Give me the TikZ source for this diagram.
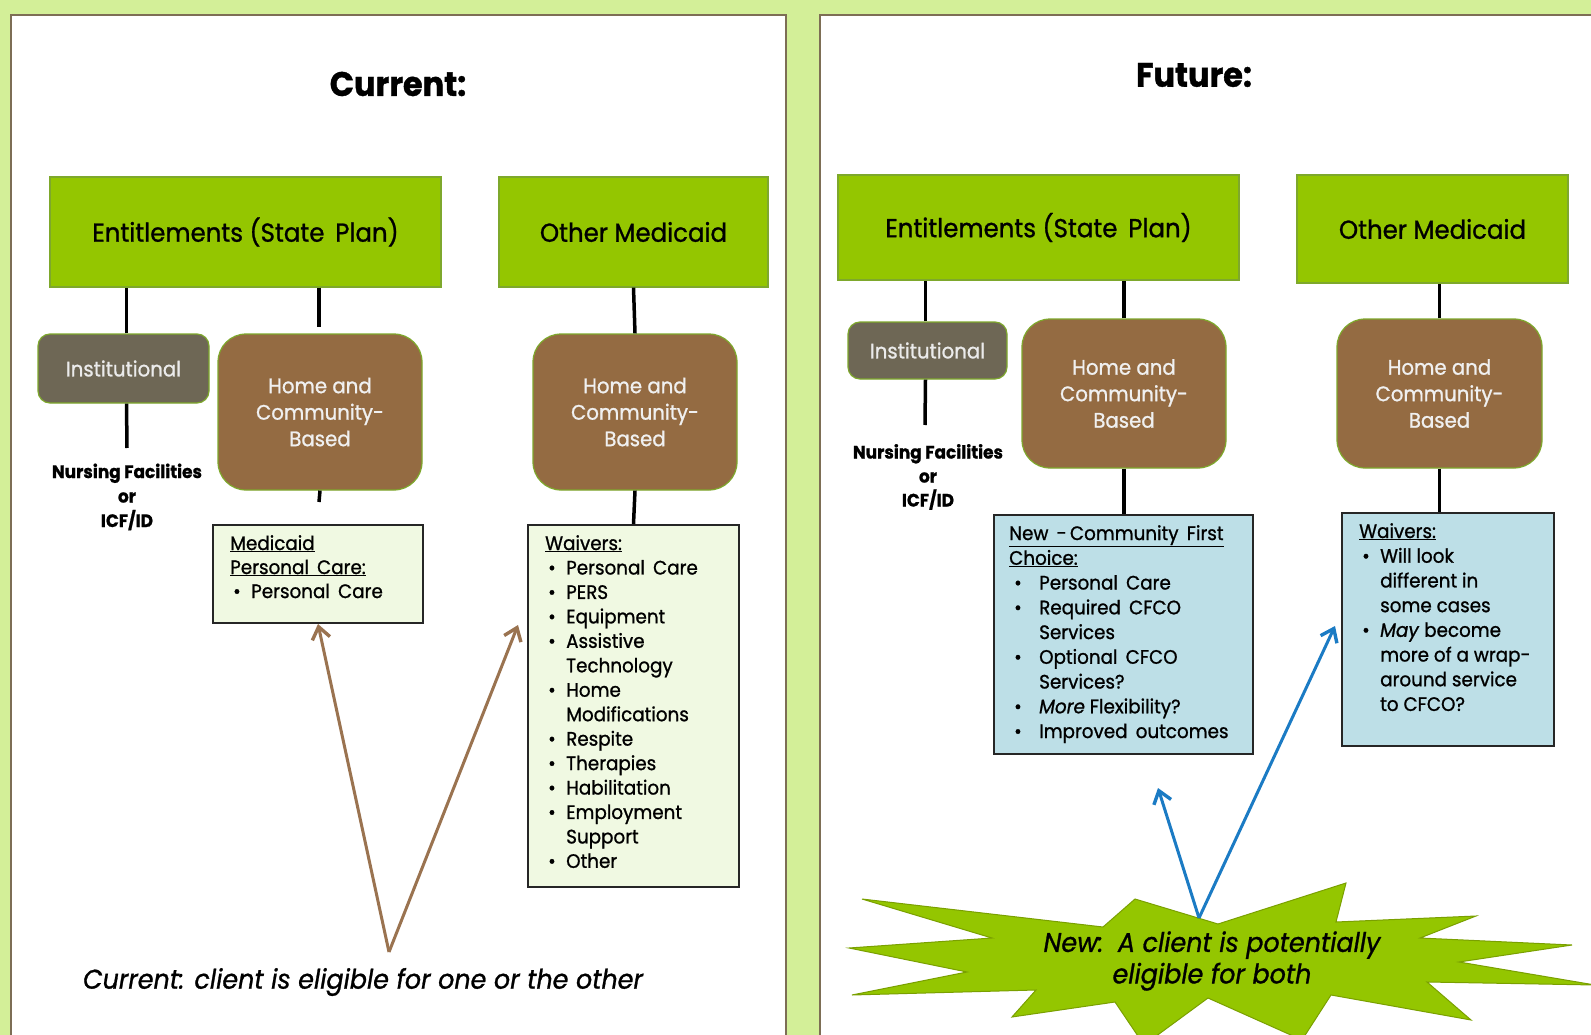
\documentclass[tikz,border=0pt]{standalone}
\usepackage{fontspec}
\setmainfont{Poppins}[FakeStretch=0.94, FakeBold=1]
\usetikzlibrary{arrows.meta}
\definecolor{bgc}{HTML}{D3EF98}
\definecolor{panelb}{HTML}{7D6E55}
\definecolor{gfill}{HTML}{94C600}
\definecolor{gdraw}{HTML}{7EA82C}
\definecolor{instf}{HTML}{6E6755}
\definecolor{hcbf}{HTML}{946B42}
\definecolor{lboxf}{HTML}{F0F9E2}
\definecolor{bboxf}{HTML}{BDDFE7}
\definecolor{arrbrown}{HTML}{9A7350}
\definecolor{arrblue}{HTML}{1B7BC4}
\definecolor{stard}{HTML}{7AA000}
\newcommand{\bl}{\hspace*{3pt}\makebox[18pt][l]{\textbullet}}
\newcommand{\blc}{\hspace*{21pt}}
\newcommand{\br}{\hspace*{5pt}\makebox[25pt][l]{\textbullet}}
\newcommand{\brc}{\hspace*{30pt}}
\begin{document}
\begin{tikzpicture}[x=1pt,y=-1pt,
  panel/.style={draw=panelb, line width=1.5pt, fill=white},
  gbox/.style={draw=gdraw, line width=1.2pt, fill=gfill, inner sep=0pt, font=\fontsize{26}{30}\selectfont},
  instbox/.style={draw=gdraw, line width=1.2pt, fill=instf, rounded corners=12pt, inner sep=0pt, text=white!92!black, font=\fontsize{21}{26}\selectfont},
  hcbbox/.style={draw=gdraw, line width=1.2pt, fill=hcbf, rounded corners=28pt, inner sep=0pt, text=white!94!black, align=center, font=\fontsize{21}{26.5}\selectfont},
  lbox/.style={draw=black!85, line width=2pt, fill=lboxf, inner sep=0pt},
  bbox/.style={draw=black!85, line width=2pt, fill=bboxf, inner sep=0pt},
  conn/.style={draw=black, line width=3.5pt},
  listtxt/.style={anchor=north west, inner sep=0pt, align=left},
  nftxt/.style={inner sep=0pt, align=center, font=\bfseries\fontsize{18}{24.5}\selectfont},
  barrow/.style={draw=arrbrown, line width=3pt, -{Straight Barb[length=12pt,width=18pt,line width=3.4pt]}},
  blarrow/.style={draw=arrblue, line width=3pt, -{Straight Barb[length=12pt,width=18pt,line width=3.4pt]}},
]
\useasboundingbox (0,0) rectangle (1591,1035);
\fill[bgc] (0,0) rectangle (1591,1035);
\draw[panel] (11,15) rectangle (786,1045);
\draw[panel] (820,15) rectangle (1600,1045);

% ---------- left panel ----------
\node[inner sep=0pt, font=\bfseries\fontsize{34}{40}\selectfont] (titL) at (398,84) {Current:};
\node[gbox, minimum width=391pt, minimum height=110pt] (entL) at (245.5,232) {Entitlements (State\, Plan)};
\node[gbox, minimum width=269pt, minimum height=110pt] (othL) at (633.5,232) {Other Medicaid};
\node[instbox, minimum width=171pt, minimum height=69pt] (instL) at (123.5,368.5) {Institutional};
\node[hcbbox, minimum width=204pt, minimum height=156pt] (hcbL) at (320,412) {Home and\\Community-\\Based};
\node[hcbbox, minimum width=204pt, minimum height=156pt] (hcbL2) at (635,412) {Home and\\Community-\\Based};
\node[lbox, minimum width=210pt, minimum height=98pt] (medL) at (318,574) {};
\node[lbox, minimum width=211pt, minimum height=362pt] (waiL) at (633.5,706) {};

\coordinate (nfL) at (127,448);
\coordinate (stubL) at (319,327);
\coordinate (stubL2) at (319,502);
\draw[conn] ([xshift=3pt]instL.north) -- ([xshift=3pt]instL.north |- entL.south);
\draw[conn] (entL.south -| stubL) -- (stubL);
\draw[conn] ([xshift=3pt]instL.south) -- (nfL);
\draw[conn] (hcbL.south) -- (stubL2);
\draw[conn] (othL.south) -- (hcbL2.north);
\draw[conn] (hcbL2.south) -- (waiL.north);

\node[nftxt] (nfTxtL) at (127,497) {Nursing Facilities\\or\\ICF/ID};

\node[listtxt, font=\fontsize{19.5}{24}\selectfont] (medT) at (230,535) {\underline{Medicaid}\\\underline{Personal\, Care:}\\\bl Personal\, Care};
\node[listtxt, font=\fontsize{19.5}{24.45}\selectfont] (waiT) at (545,535) {\underline{Waivers:}\\\bl Personal\, Care\\\bl PERS\\\bl Equipment\\\bl Assistive\\\blc Technology\\\bl Home\\\blc Modifications\\\bl Respite\\\bl Therapies\\\bl Habilitation\\\bl Employment\\\blc Support\\\bl Other};

\coordinate (origL) at (389,952);
\coordinate (tipL2) at (518,625);
\draw[barrow] (origL) -- (medL.south);
\draw[barrow] (origL) -- (tipL2);

\node[inner sep=0pt, font=\itshape\fontsize{27}{32}\selectfont] (curTxt) at (363,982) {Current: client is eligible for one or the other};

% ---------- right panel ----------
\node[inner sep=0pt, font=\bfseries\fontsize{34}{40}\selectfont] (titR) at (1194,75) {Future:};
\node[gbox, minimum width=401pt, minimum height=105pt] (entR) at (1038.5,227.5) {Entitlements (State\, Plan)};
\node[gbox, minimum width=271pt, minimum height=108pt] (othR) at (1432.5,229) {Other Medicaid};
\node[instbox, minimum width=159pt, minimum height=57pt] (instR) at (927.5,350.5) {Institutional};
\node[hcbbox, minimum width=204pt, minimum height=149pt] (hcbR) at (1124,393.5) {Home and\\Community-\\Based};
\node[hcbbox, minimum width=205pt, minimum height=149pt] (hcbR2) at (1439.5,393.5) {Home and\\Community-\\Based};
\node[bbox, minimum width=259pt, minimum height=239pt] (cfcR) at (1123.5,634.5) {};
\node[bbox, minimum width=212pt, minimum height=233pt] (waiR) at (1448,629.5) {};

\coordinate (nfR) at (925,425);
\draw[conn] ([xshift=-2pt]instR.north) -- ([xshift=-2pt]instR.north |- entR.south);
\draw[conn] ([xshift=-2pt]instR.south) -- (nfR);
\draw[conn] (hcbR.north) -- (hcbR.north |- entR.south);
\draw[conn] (hcbR.south) -- (cfcR.north -| hcbR.south);
\draw[conn] (hcbR2.north) -- (hcbR2.north |- othR.south);
\draw[conn] (hcbR2.south) -- (waiR.north -| hcbR2.south);

\node[nftxt, font=\bfseries\fontsize{18}{24}\selectfont] (nfTxtR) at (928,477) {Nursing Facilities\\or\\ICF/ID};

\node[listtxt, font=\fontsize{19.5}{24.75}\selectfont] (cfcT) at (1009,525) {\underline{New\, -\,Community\, First}\\\underline{Choice:}\\\br Personal\, Care\\\br Required\, CFCO\\\brc Services\\\br Optional\, CFCO\\\brc Services?\\\br \textit{More} Flexibility?\\\br Improved\, outcomes};
\node[listtxt, font=\fontsize{19.5}{24.7}\selectfont] (waiRT) at (1359,523) {\underline{Waivers:}\\\bl Will look\\\blc different in\\\blc some cases\\\bl \textit{May} become\\\blc more of a wrap-\\\blc around service\\\blc to CFCO?};

% starburst
\fill[gfill, draw=stard, line width=1pt] (862,899) -- (1103,927) -- (1135,899) -- (1218,924) -- (1346,883) -- (1336,922) -- (1476,916) -- (1420,938) -- (1572,945) -- (1459,962) -- (1595,985) -- (1427,982) -- (1471,1020) -- (1331,995) -- (1302,1040) -- (1208,998) -- (1144,1045) -- (1115,1002) -- (1012,1017) -- (1036,990) -- (852,995) -- (967,972) -- (849,948) -- (992,938) -- cycle;
\node[inner sep=0pt, align=center, font=\itshape\fontsize{27}{31.5}\selectfont] (newTxt) at (1212,961) {New:\, A client is potentially\\eligible for both};

\coordinate (origR) at (1199,918);
\coordinate (tipR1) at (1158,788);
\coordinate (tipR2) at (1335,626);
\draw[blarrow] (origR) -- (tipR1);
\draw[blarrow] (origR) -- (tipR2);
\end{tikzpicture}
\end{document}
